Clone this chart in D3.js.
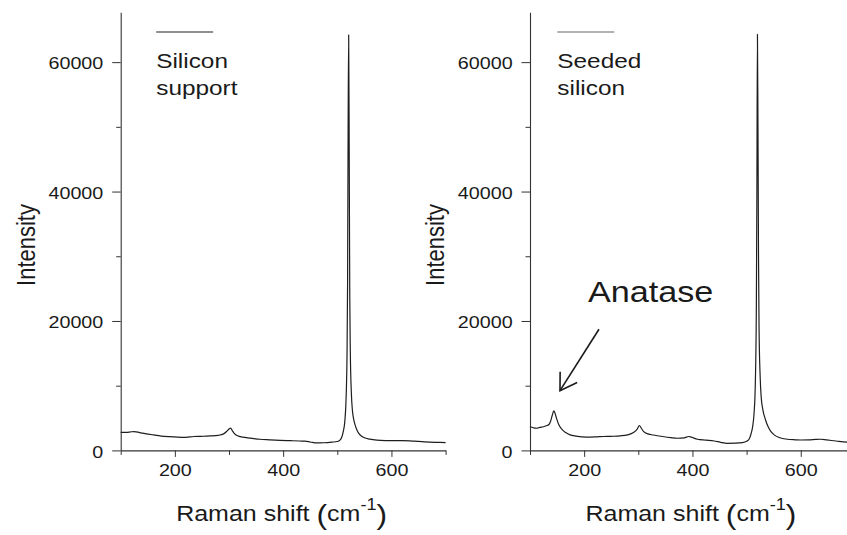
<!DOCTYPE html>
<html>
<head>
<meta charset="utf-8">
<script src="https://cdn.jsdelivr.net/npm/d3@7"></script>
<style>
  html, body { margin: 0; padding: 0; background: #fff; }
  svg { display: block; }
</style>
</head>
<body>
<svg id="chart" width="847" height="535"></svg>
<script>
// ---------- data ----------
const shiftSupport = [100,110,120,125,135,145,160,175,190,205,220,235,250,265,280,290,296,300,303,306,310,316,325,340,357,375,395,415,431,440,450,462,475,490,500,505,508,511,514,516,518,519,520,521,522,523,524,526,528,530,533,536,540,545,550,560,573,590,603,620,634,650,670,690,700];
const intensitySupport = [2800,2780,2880,2900,2760,2600,2400,2220,2120,2050,2020,2150,2180,2230,2330,2550,2950,3300,3450,3050,2600,2250,2050,1900,1720,1640,1560,1500,1450,1420,1300,1150,1180,1280,1380,1600,2000,2900,4600,7500,15000,26000,50000,64200,46000,24000,15500,8800,6100,4900,3900,3200,2600,2200,1950,1750,1600,1520,1500,1520,1480,1380,1280,1230,1200];

const shiftSeeded = [100,106,112,118,125,130,135,138,141,144,146,149,153,159,166,174,185,205,220,236,250,267,280,291,298,302,305,310,318,328,345,360,372,385,393,398,409,425,440,452,464,480,492,500,505,508,511,514,516,518,519,520,521,522,523,525,527,530,535,540,545,551,560,575,590,600,615,628,637,648,665,686,700];
const intensitySeeded = [3650,3500,3420,3550,3650,3800,4000,4500,5400,6100,5800,4950,4000,3250,2750,2400,2200,2050,2080,2150,2180,2250,2400,2750,3300,3850,3500,2900,2550,2380,2150,1980,1880,1950,2150,2050,1720,1580,1450,1250,1100,1120,1200,1400,1800,2500,3600,6000,10000,22000,40000,64300,50000,30000,19000,11500,8200,6300,4700,3600,2900,2400,2000,1720,1640,1610,1630,1700,1720,1620,1450,1260,1200];

const xMajorTicks = [200, 400, 600];
const xMinorTicks = [100, 300, 500, 700];
const yMajorTicks = [0, 20000, 40000, 60000];
const yMinorTicks = [10000, 30000, 50000];
const xDomain = [100, 700];
const yDomain = [0, 67700];

const legendLines = [["Silicon", "support"], ["Seeded", "silicon"]];
const xTitle = "Raman shift";
const xUnit = "cm";
const xUnitSup = "-1";
const yTitle = "Intensity";
const annotationLabel = "Anatase";

// ---------- drawing ----------
const SX = 1.16;  // horizontal stretch of the reference artwork
const FONT = "'Liberation Sans', Arial, Helvetica, sans-serif";
const INK = "#1e1e1e";
const AXIS = "#333";

const svg = d3.select("#chart");

const panels = [
  { x0: shiftSupport, y0: intensitySupport, range: [120.7, 445.6], legend: legendLines[0], legendColor: "#222", anatase: false },
  { x0: shiftSeeded,  y0: intensitySeeded,  range: [530, 854.9],   legend: legendLines[1], legendColor: "#666", anatase: true }
];

const yRange = [450.4, 12.3];

function stext(parent, x, y, str, size, anchor) {
  return parent.append("text")
    .attr("transform", `translate(${x},${y}) scale(${SX},1)`)
    .attr("font-family", FONT)
    .attr("font-size", size)
    .attr("fill", "#1a1a1a")
    .attr("text-anchor", anchor || "start")
    .text(str);
}

panels.forEach(p => {
  const x = d3.scaleLinear().domain(xDomain).range(p.range);
  const y = d3.scaleLinear().domain(yDomain).range(yRange);
  const g = svg.append("g");

  // y axis (major + minor)
  const yMaj = g.append("g").attr("transform", `translate(${p.range[0]},0)`)
    .call(d3.axisLeft(y).tickValues(yMajorTicks).tickSize(8.5).tickSizeOuter(0)
      .tickFormat(d3.format("d")));
  yMaj.select(".domain").attr("stroke", AXIS).attr("stroke-width", 1.1);
  yMaj.selectAll(".tick line").attr("stroke", AXIS).attr("stroke-width", 1);
  yMaj.selectAll(".tick text")
    .attr("font-family", FONT).attr("font-size", 17).attr("fill", "#1a1a1a")
    .attr("x", 0).attr("dy", "0.4em")
    .attr("transform", `translate(-17.4,0) scale(${SX},1)`);
  const yMin = g.append("g").attr("transform", `translate(${p.range[0]},0)`)
    .call(d3.axisLeft(y).tickValues(yMinorTicks).tickSize(4.5).tickSizeOuter(0).tickFormat(""));
  yMin.select(".domain").remove();
  yMin.selectAll(".tick line").attr("stroke", AXIS).attr("stroke-width", 1);

  // x axis (major + minor)
  const xMaj = g.append("g").attr("transform", `translate(0,${yRange[0]})`)
    .call(d3.axisBottom(x).tickValues(xMajorTicks).tickSize(6.5).tickSizeOuter(0)
      .tickFormat(d3.format("d")));
  xMaj.select(".domain").attr("stroke", AXIS).attr("stroke-width", 1.1);
  xMaj.selectAll(".tick line").attr("stroke", AXIS).attr("stroke-width", 1);
  xMaj.selectAll(".tick text")
    .attr("font-family", FONT).attr("font-size", 17).attr("fill", "#1a1a1a")
    .attr("y", 0).attr("dy", 0)
    .attr("transform", `translate(0,25.6) scale(${SX},1)`);
  const xMin = g.append("g").attr("transform", `translate(0,${yRange[0]})`)
    .call(d3.axisBottom(x).tickValues(xMinorTicks).tickSize(4.5).tickSizeOuter(0).tickFormat(""));
  xMin.select(".domain").remove();
  xMin.selectAll(".tick line").attr("stroke", AXIS).attr("stroke-width", 1);

  // spectrum
  const pts = p.x0.map((v, i) => [v, p.y0[i]]);
  const line = d3.line().x(d => x(d[0])).y(d => y(d[1])).curve(d3.curveMonotoneX);
  g.append("path").datum(pts)
    .attr("d", line)
    .attr("fill", "none")
    .attr("stroke", INK)
    .attr("stroke-width", 1.2)
    .attr("stroke-linejoin", "round");

  // legend
  const lx = p.range[0] + (p.anatase ? 27.3 : 35.5);
  g.append("line")
    .attr("x1", lx).attr("x2", lx + 57)
    .attr("y1", 32).attr("y2", 32)
    .attr("stroke", p.legendColor).attr("stroke-width", 1.1);
  stext(g, lx, 67.8, p.legend[0], 21);
  stext(g, lx, 95, p.legend[1], 21);

  // axis titles
  const mid = (p.range[0] + p.range[1]) / 2 - 1.5;
  const t = g.append("text")
    .attr("transform", `translate(${mid},521) scale(${SX * 0.98},1)`)
    .attr("font-family", FONT)
    .attr("fill", "#1a1a1a")
    .attr("text-anchor", "middle");
  t.append("tspan").attr("font-size", 22).text(xTitle + " ");
  t.append("tspan").attr("font-size", 28).attr("dy", 3).text("(");
  t.append("tspan").attr("font-size", 22).attr("dy", -3).text(xUnit);
  t.append("tspan").attr("font-size", 16).attr("dy", -11).text(xUnitSup);
  t.append("tspan").attr("font-size", 28).attr("dy", 14).text(")");

  g.append("text")
    .attr("transform", `translate(${p.range[0] - 86},245) scale(${SX},1) rotate(-90)`)
    .attr("font-family", FONT)
    .attr("font-size", 22)
    .attr("fill", "#1a1a1a")
    .attr("text-anchor", "middle")
    .text(yTitle);

  // annotation (right panel)
  if (p.anatase) {
    g.append("text")
      .attr("transform", `translate(${x(207)},${y(22940)}) scale(1.14,1)`)
      .attr("font-family", FONT)
      .attr("font-size", 30)
      .attr("fill", "#1a1a1a")
      .text(annotationLabel);
    const tail = [x(227.4), y(18720)];
    const tip = [x(155.4), y(9230)];
    g.append("line")
      .attr("x1", tail[0]).attr("y1", tail[1])
      .attr("x2", tip[0]).attr("y2", tip[1])
      .attr("stroke", "#1a1a1a").attr("stroke-width", 1.6);
    const ang = Math.atan2(tail[1] - tip[1], tail[0] - tip[0]);
    const L = 19, spread = 32 * Math.PI / 180;
    const a1 = [tip[0] + L * Math.cos(ang + spread), tip[1] + L * Math.sin(ang + spread)];
    const a2 = [tip[0] + L * Math.cos(ang - spread), tip[1] + L * Math.sin(ang - spread)];
    g.append("path")
      .attr("d", `M${a1[0]},${a1[1]}L${tip[0]},${tip[1]}L${a2[0]},${a2[1]}`)
      .attr("fill", "none").attr("stroke", "#1a1a1a").attr("stroke-width", 1.6);
  }
});
</script>
</body>
</html>
